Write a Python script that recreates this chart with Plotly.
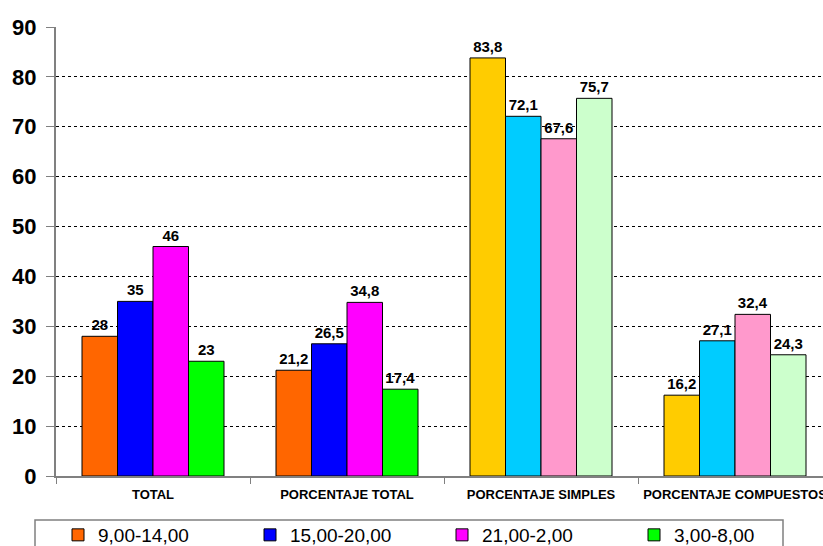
import plotly.graph_objects as go

categories = ["TOTAL", "PORCENTAJE TOTAL", "PORCENTAJE SIMPLES", "PORCENTAJE COMPUESTOS"]
series_names = ["9,00-14,00", "15,00-20,00", "21,00-2,00", "3,00-8,00"]
s1 = [28, 21.2, 83.8, 16.2]
s2 = [35, 26.5, 72.1, 27.1]
s3 = [46, 34.8, 67.6, 32.4]
s4 = [23, 17.4, 75.7, 24.3]
values = [s1, s2, s3, s4]
colors_a = ["#FF6600", "#0000FF", "#FF00FF", "#00FF00"]
colors_b = ["#FFCC00", "#00CCFF", "#FF99CC", "#CCFFCC"]
y_ticks = [0, 10, 20, 30, 40, 50, 60, 70, 80, 90]

def fmt(v):
    s = ("%g" % v)
    return s.replace(".", ",")

fig = go.Figure()
for i, (name, vals) in enumerate(zip(series_names, values)):
    cols = [colors_a[i], colors_a[i], colors_b[i], colors_b[i]]
    fig.add_trace(go.Bar(
        x=categories, y=vals, name=name,
        marker=dict(color=cols, line=dict(color="black", width=1)),
        text=[fmt(v) for v in vals], textposition="outside",
        textfont=dict(family="Arial, Liberation Sans", size=15, color="black", weight="bold"),
        cliponaxis=False,
    ))

W, H = 823, 546
L, T = 56, 27
B = H - 476
pw = W - L
ph = H - T - B

fig.update_layout(
    width=W, height=H,
    margin=dict(l=L, r=0, t=T, b=B, autoexpand=False),
    paper_bgcolor="white", plot_bgcolor="white",
    barmode="group", bargap=0.268, bargroupgap=0,
    font=dict(family="Arial, Liberation Sans", color="black"),
    showlegend=True,
    legend=dict(orientation="h", xref="container", yref="container",
                x=58 / W, y=1 - 516 / H, xanchor="left", yanchor="top",
                entrywidth=147, entrywidthmode="pixels",
                font=dict(size=19, family="Arial, Liberation Sans", color="black"),
                bgcolor="rgba(0,0,0,0)", borderwidth=0),
    xaxis=dict(range=[-0.5, -0.5 + 4 * (823 - 56) / 776], showline=True, linecolor="#808080", linewidth=2,
               ticks="outside", tickson="boundaries", ticklen=6, tickcolor="#808080",
               ticklabelstandoff=5,
               tickfont=dict(size=13, weight="bold"), showgrid=False, fixedrange=True),
    yaxis=dict(range=[0, 90], tickvals=y_ticks, showline=True, linecolor="#808080", linewidth=2,
               ticks="outside", ticklen=8, tickcolor="#808080",
               ticklabelstandoff=5,
               tickfont=dict(size=22, weight="bold"),
               showgrid=True, gridcolor="black", griddash="dot", gridwidth=1,
               zeroline=False, fixedrange=True),
)

fig.add_shape(type="rect", xref="paper", yref="paper",
              x0=(35 - L) / pw, x1=(783 - L) / pw,
              y0=(476 - 520) / ph, y1=(476 - 570) / ph,
              line=dict(color="#808080", width=1.5), fillcolor="rgba(0,0,0,0)", layer="above")

fig.write_html("out.html", config={"displayModeBar": False},
               post_script="document.body.style.margin='0';document.body.style.overflow='hidden';")
